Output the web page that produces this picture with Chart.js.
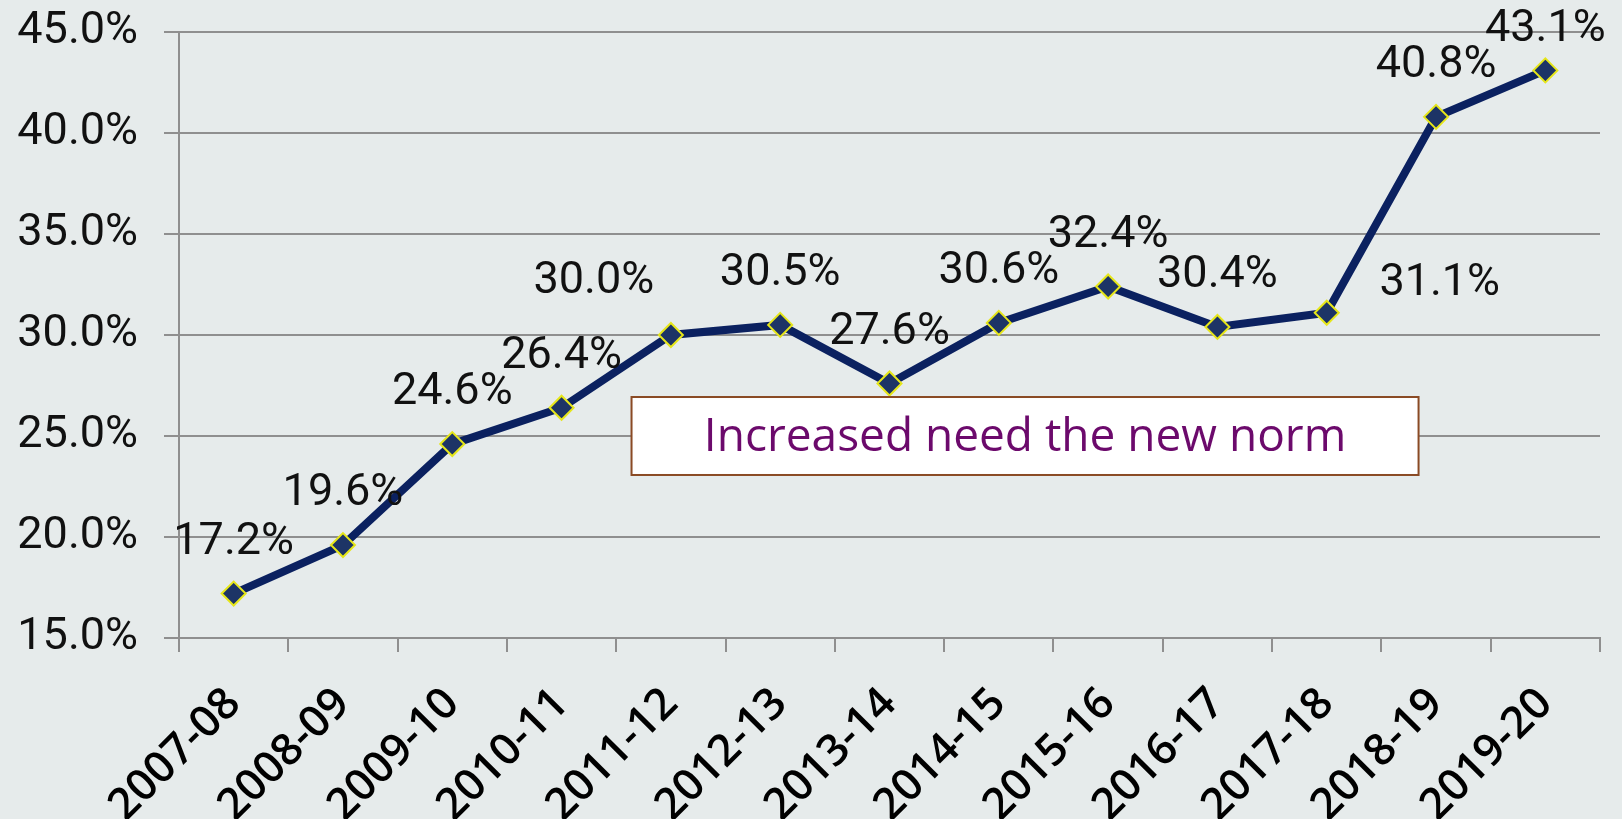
<!DOCTYPE html>
<html>
<head>
<meta charset="utf-8">
<script src="https://cdn.jsdelivr.net/npm/chart.js@4.4.1/dist/chart.umd.min.js"></script>
<style>
  html, body { margin: 0; padding: 0; background: #e6ebeb; }
  #wrap { width: 1622px; height: 819px; position: relative; }
</style>
</head>
<body>
<div id="wrap"><canvas id="needChart"></canvas></div>
<script>
const categories = ['2007-08', '2008-09', '2009-10', '2010-11', '2011-12', '2012-13', '2013-14',
    '2014-15', '2015-16', '2016-17', '2017-18', '2018-19', '2019-20'];
const shares = [17.2, 19.6, 24.6, 26.4, 30.0, 30.5, 27.6, 30.6, 32.4, 30.4, 31.1, 40.8, 43.1];
const yMin = 15;
const yMax = 45;
const yStep = 5;
const noteText = 'Increased need the new norm';

// nudges for the value labels that sit off their default spot
const labelShift = [[0, 0], [0, 0], [0, 0], [0, 0], [-77, -2], [0, 0], [0, 0],
    [0, 0], [0, 0], [0, 0], [113, 22], [0, 0], [0, 10]];

const gridGrey = '#8f8f8f';

const valueLabels = {
    id: 'valueLabels',
    afterDatasetsDraw(chart) {
        const ctx = chart.ctx;
        const xs = chart.scales.x;
        const ys = chart.scales.y;

        // note box
        const left = xs.getPixelForValue(3.64);
        const right = xs.getPixelForValue(10.84);
        const top = ys.getPixelForValue(26.93);
        const bottom = ys.getPixelForValue(23.07);
        ctx.save();
        ctx.fillStyle = '#ffffff';
        ctx.fillRect(left, top, right - left, bottom - top);
        ctx.strokeStyle = '#8a4a24';
        ctx.lineWidth = 2;
        ctx.strokeRect(left, top, right - left, bottom - top);
        ctx.fillStyle = '#6c0a6c';
        ctx.font = '46px "Open Sans"';
        ctx.textAlign = 'center';
        ctx.textBaseline = 'middle';
        ctx.fillText(noteText, (left + right) / 2, (top + bottom) / 2 + 2);

        // value labels
        ctx.fillStyle = '#111111';
        ctx.font = '45px Roboto';
        const meta = chart.getDatasetMeta(0);
        meta.data.forEach((pt, i) => {
            const [dx, dy] = labelShift[i];
            ctx.fillText(shares[i].toFixed(1) + '%', pt.x + dx, pt.y - 51 + dy);
        });
        ctx.restore();
    }
};

const ctx = document.getElementById('needChart').getContext('2d');
const needChart = new Chart(ctx, {
    type: 'line',
    data: {
        labels: categories,
        datasets: [{
            data: shares,
            borderColor: '#0b2160',
            borderWidth: 8,
            tension: 0,
            pointStyle: 'rectRot',
            pointRadius: 12,
            pointBorderWidth: 2,
            pointBorderColor: '#e6e619',
            pointBackgroundColor: '#1d3466',
        }],
    },
    plugins: [valueLabels],
    options: {
        responsive: true,
        maintainAspectRatio: false,
        animation: false,
        layout: { padding: { top: 32, right: 22 } },
        plugins: {
            legend: { display: false },
            tooltip: { enabled: false },
        },
        scales: {
            x: {
                offset: true,
                grid: { offset: true, drawOnChartArea: false, tickLength: 14, color: gridGrey, lineWidth: 2 },
                border: { color: gridGrey, width: 2 },
                ticks: {
                    minRotation: 45,
                    maxRotation: 45,
                    padding: 26,
                    color: '#000000',
                    font: { family: '"Open Sans"', size: 44, weight: '600' },
                },
                afterFit: (scale) => { scale.height = 181; },
            },
            y: {
                min: yMin,
                max: yMax,
                grid: { color: gridGrey, lineWidth: 2, tickLength: 15 },
                border: { color: gridGrey, width: 2 },
                ticks: {
                    stepSize: yStep,
                    padding: 26,
                    color: '#111111',
                    font: { family: 'Roboto', size: 45 },
                    callback: (v) => v.toFixed(1) + '%',
                },
                afterFit: (scale) => {
                    scale.width = 179;
                    scale.paddingTop = 0;
                    scale.paddingBottom = 0;
                },
            },
        },
    },
});
</script>
</body>
</html>
